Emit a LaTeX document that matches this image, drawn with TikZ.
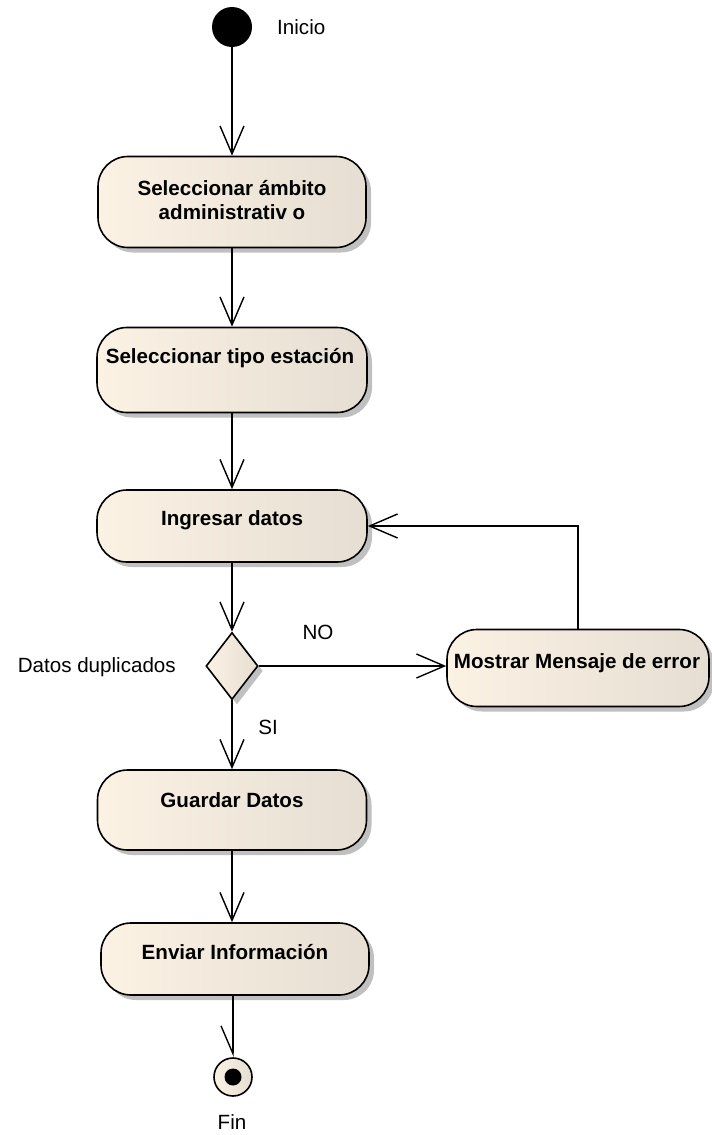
\documentclass[tikz,border=0pt]{standalone}
\usepackage{fontspec}
\setmainfont{Liberation Sans}
\usetikzlibrary{arrows.meta,shadows,shapes.geometric}
\definecolor{actL}{RGB}{251,242,228}
\definecolor{actR}{RGB}{230,222,210}
\definecolor{shadowgray}{RGB}{192,192,192}
\begin{document}
\begin{tikzpicture}[x=1pt,y=-1pt,
  act/.style={draw=black, line width=1.6pt, rounded corners=30pt,
    left color=actL, right color=actR, inner sep=0pt,
    drop shadow={shadow xshift=5pt, shadow yshift=-5pt, fill=shadowgray, opacity=1}},
  acttext/.style={font=\bfseries\fontsize{20.6}{24}\selectfont, align=center, inner sep=0pt},
  plain/.style={font=\fontsize{20.6}{24}\selectfont, inner sep=0pt},
  decision/.style={diamond, draw=black, line width=1.6pt, inner sep=0pt,
    minimum width=52pt, minimum height=67pt, left color=actL, right color=actR,
    drop shadow={shadow xshift=5pt, shadow yshift=-5pt, fill=shadowgray, opacity=1}},
  flow/.style={line width=1.4pt, -{Straight Barb[length=28pt, width=24pt, line width=1.4pt]}},
  flowhalf/.style={line width=1.4pt, -{Straight Barb[length=28pt, width=24pt, line width=1.4pt, harpoon, swap]}}
]
\useasboundingbox (0,0) rectangle (712,1135);

% initial node
\node[circle, fill=black, minimum size=40pt, inner sep=0pt] (start) at (232,27) {};
\node[plain, anchor=west] (startlbl) at (277,27) {Inicio};

% activities
\node[act, minimum width=268pt, minimum height=91pt] (b1) at (232,202) {};
\node[acttext] (b1t) at (232,200) {Seleccionar ámbito\\administrativ o};

\node[act, minimum width=270pt, minimum height=85pt] (b2) at (232,370) {};
\node[acttext] (b2t) at (230,358) {Seleccionar tipo estación};

\node[act, minimum width=270pt, minimum height=72pt] (b3) at (232,526) {};
\node[acttext] (b3t) at (232,520) {Ingresar datos};

\node[decision] (dec) at (232,666) {};
\node[plain, anchor=east] (declbl) at (176,667) {Datos duplicados};

\node[act, minimum width=262pt, minimum height=77pt] (err) at (578,668) {};
\node[acttext] (errt) at (577,663) {Mostrar Mensaje de error};

\node[act, minimum width=269pt, minimum height=80pt] (b4) at (232,810) {};
\node[acttext] (b4t) at (232,800) {Guardar Datos};

\node[act, minimum width=268pt, minimum height=72pt] (b5) at (235,959) {};
\node[acttext] (b5t) at (235,952) {Enviar Información};

% final node
\node[circle, draw=black, line width=1.6pt, left color=actL, right color=actR,
  minimum size=38pt, inner sep=0pt] (fin) at (233,1077) {};
\fill[black] (fin.center) circle (8.5pt);
\node[plain] (finlbl) at (232,1122) {Fin};

% guard labels
\node[plain] (nolbl) at (318,632) {NO};
\node[plain] (silbl) at (268,727) {SI};

% control flows
\draw[flow] (start.south) -- (b1.north);
\draw[flow] (b1.south) -- (b2.north);
\draw[flow] (b2.south) -- (b3.north);
\draw[flow] (b3.south) -- (dec.north);
\draw[flow] (dec.east) -- (dec.east -| err.west);
\draw[flow] (err.north) |- (b3.east);
\draw[flow] (dec.south) -- (b4.north);
\draw[flow] (b4.south) -- (b4.south |- b5.north);
\draw[flowhalf] (b5.south -| fin.north) -- (fin.north);
\end{tikzpicture}
\end{document}
